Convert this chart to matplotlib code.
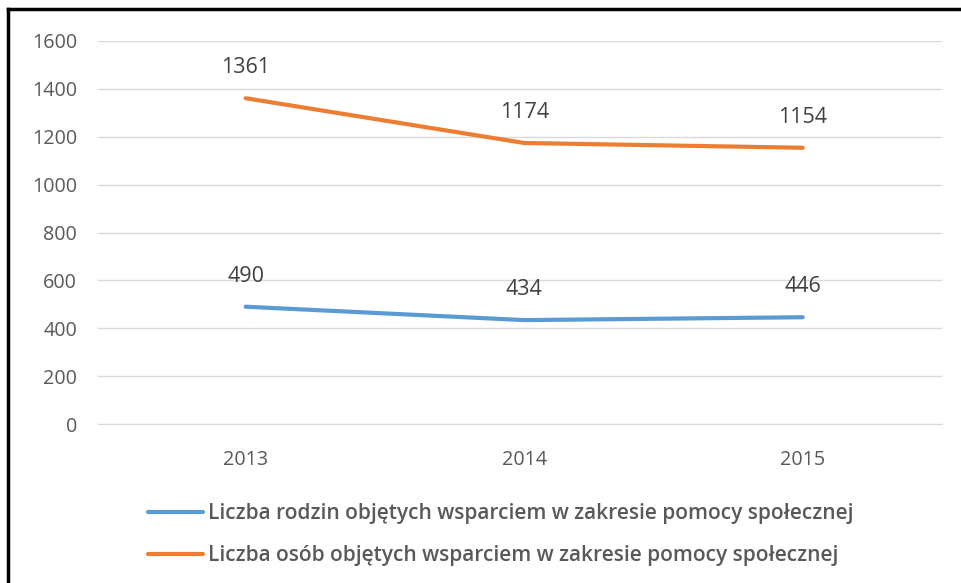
import matplotlib
matplotlib.use("Agg")
from matplotlib import pyplot as plt
from matplotlib.lines import Line2D

plt.rcParams['font.family'] = ['Open Sans', 'DejaVu Sans']

years = ['2013', '2014', '2015']
rodziny = [490, 434, 446]
osoby = [1361, 1174, 1154]
labels = ['Liczba rodzin objętych wsparciem w zakresie pomocy społecznej',
          'Liczba osób objętych wsparciem w zakresie pomocy społecznej']

blue = '#5B9BD5'
orange = '#ED7D31'
grey = '#595959'

fig = plt.figure(figsize=(9.61, 5.83), dpi=100)
ax = fig.add_axes([98/961, 1-424/583, (942-98)/961, (424-41)/583])

x = list(range(len(years)))
l1, = ax.plot(x, rodziny, color=blue, lw=3.0, solid_capstyle='round')
l2, = ax.plot(x, osoby, color=orange, lw=3.0, solid_capstyle='round')

for xi, v in zip(x, rodziny):
    ax.annotate(str(v), (xi, v), xytext=(0, 22), textcoords='offset points',
                ha='center', va='center', fontsize=15.5, color='#404040')
for xi, v in zip(x, osoby):
    ax.annotate(str(v), (xi, v), xytext=(0, 22), textcoords='offset points',
                ha='center', va='center', fontsize=15.5, color='#404040')

ax.set_xlim(-0.53, 2.5)
ax.set_ylim(0, 1600)
ax.set_yticks(range(0, 1601, 200))
ax.set_xticks(x)
ax.set_xticklabels(years)
ax.grid(axis='y', color='#d9d9d9', lw=1)
ax.set_axisbelow(True)
for s in ['top', 'right', 'left']:
    ax.spines[s].set_visible(False)
ax.spines['bottom'].set_color('#d9d9d9')
ax.tick_params(axis='both', length=0, labelsize=14.2, labelcolor=grey)
ax.tick_params(axis='y', pad=15)
ax.tick_params(axis='x', pad=19)

leg = fig.legend([l1, l2], labels, loc='upper left', bbox_to_anchor=(140/961, 1-495/583),
                 frameon=False, fontsize=15, handlelength=2.6, handletextpad=0.25,
                 labelspacing=1.0, borderaxespad=0)
for t in leg.get_texts():
    t.set_color(grey)
    t.set_fontweight('semibold')

# black frame of the screenshot
fig.add_artist(Line2D([8/961, 8/961], [0, 1-9/583], color='black', lw=2.5, transform=fig.transFigure))
fig.add_artist(Line2D([8/961, 1], [1-9/583, 1-9/583], color='black', lw=2.5, transform=fig.transFigure))

fig.savefig("out.png", dpi=100)
